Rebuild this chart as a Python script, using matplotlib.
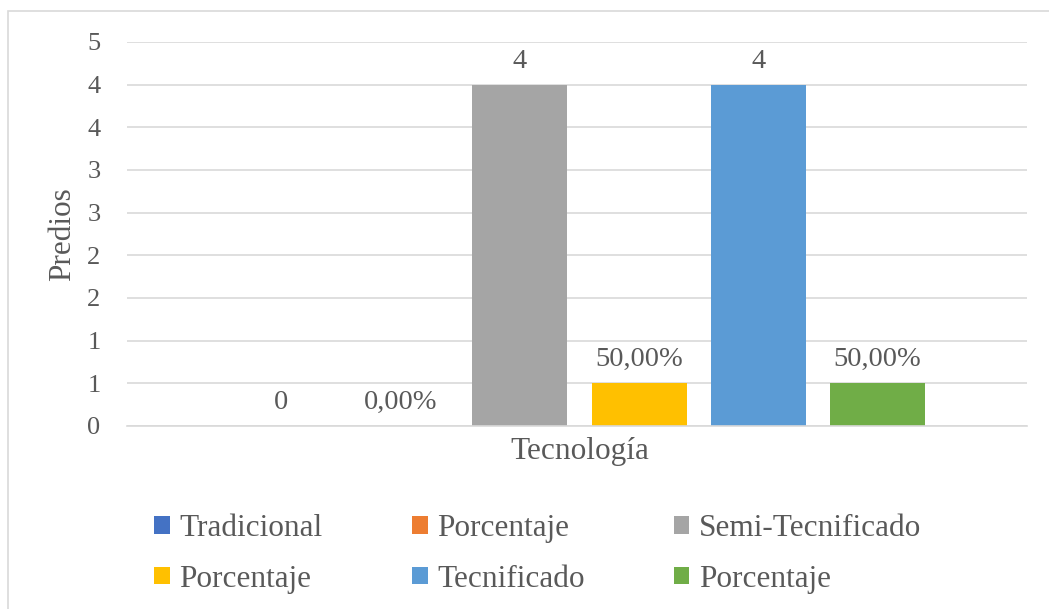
import matplotlib.pyplot as plt
from matplotlib.patches import Rectangle
import numpy as np

# series shown for the single category
category = "Tecnología"
series_names = ["Tradicional", "Porcentaje", "Semi-Tecnificado",
                "Porcentaje", "Tecnificado", "Porcentaje"]
series_values = [0, 0.0, 4, 0.5, 4, 0.5]
is_percent = [False, True, False, True, False, True]
series_colors = ["#4472C4", "#ED7D31", "#A5A5A5", "#FFC000", "#5B9BD5", "#70AD47"]

# y ticks every 0.5, labels shown rounded to whole numbers
y_ticks = [0, 0.5, 1, 1.5, 2, 2.5, 3, 3.5, 4, 4.5]
y_ticklabels = ["0", "1", "1", "2", "2", "3", "3", "4", "4", "5"]

plt.rcParams["font.family"] = ["Liberation Serif", "DejaVu Serif"]
txt = "#595959"
grid_c = "#D9D9D9"

fig = plt.figure(figsize=(10.49, 6.09), dpi=100)
ax = fig.add_axes([127/1049, 1-426/609, 900/1049, 384/609])

n = len(series_values)
offsets = np.arange(n) - (n - 1) / 2
bars = []
for i in range(n):
    b = ax.bar(offsets[i], series_values[i], width=0.796,
               color=series_colors[i], label=series_names[i], zorder=2)
    if is_percent[i]:
        lab = ["{:.2f}%".format(series_values[i]*100).replace(".", ",")]
    else:
        lab = ["{:d}".format(int(series_values[i]))]
    ax.bar_label(b, labels=lab, padding=8, fontsize=20.5, color=txt)
    bars.append(b)

ax.set_xlim(-3.792, 3.752)
ax.set_ylim(0, 4.5)
ax.set_yticks(y_ticks)
ax.set_yticklabels(y_ticklabels)
ax.set_xticks([0])
ax.set_xticklabels([category])
ax.tick_params(axis="y", length=0, pad=19, labelsize=19, labelcolor=txt)
ax.tick_params(axis="x", length=0, pad=8, labelsize=22.5, labelcolor=txt)
ax.grid(axis="y", color=grid_c, linewidth=1.2, zorder=0)
ax.set_axisbelow(True)
for s in ["top", "right", "left"]:
    ax.spines[s].set_visible(False)
ax.spines["bottom"].set_color(grid_c)
ax.spines["bottom"].set_linewidth(1.2)

ax.set_ylabel("Predios", fontsize=22.5, color=txt)
ax.yaxis.set_label_coords(-0.055, 0.5)

# legend is filled column by column, so reorder to read row by row
order = [0, 3, 1, 4, 2, 5]
handles = [bars[i] for i in order]
labels = [series_names[i] for i in order]
fig.legend(handles, labels, ncol=3, loc="upper left",
           bbox_to_anchor=(154/1049, 1-514/609), frameon=False,
           fontsize=22.5, labelcolor=txt, handlelength=0.51, handleheight=0.5,
           handletextpad=0.3, columnspacing=2.85, labelspacing=0.69,
           borderpad=0, borderaxespad=0)

# outer chart border
fig.patches.append(Rectangle((8/1049, -0.05), 1.1, 1-11/609+0.05,
                             transform=fig.transFigure, fill=False,
                             edgecolor=grid_c, linewidth=1.2))

fig.savefig("out.png", dpi=100)
